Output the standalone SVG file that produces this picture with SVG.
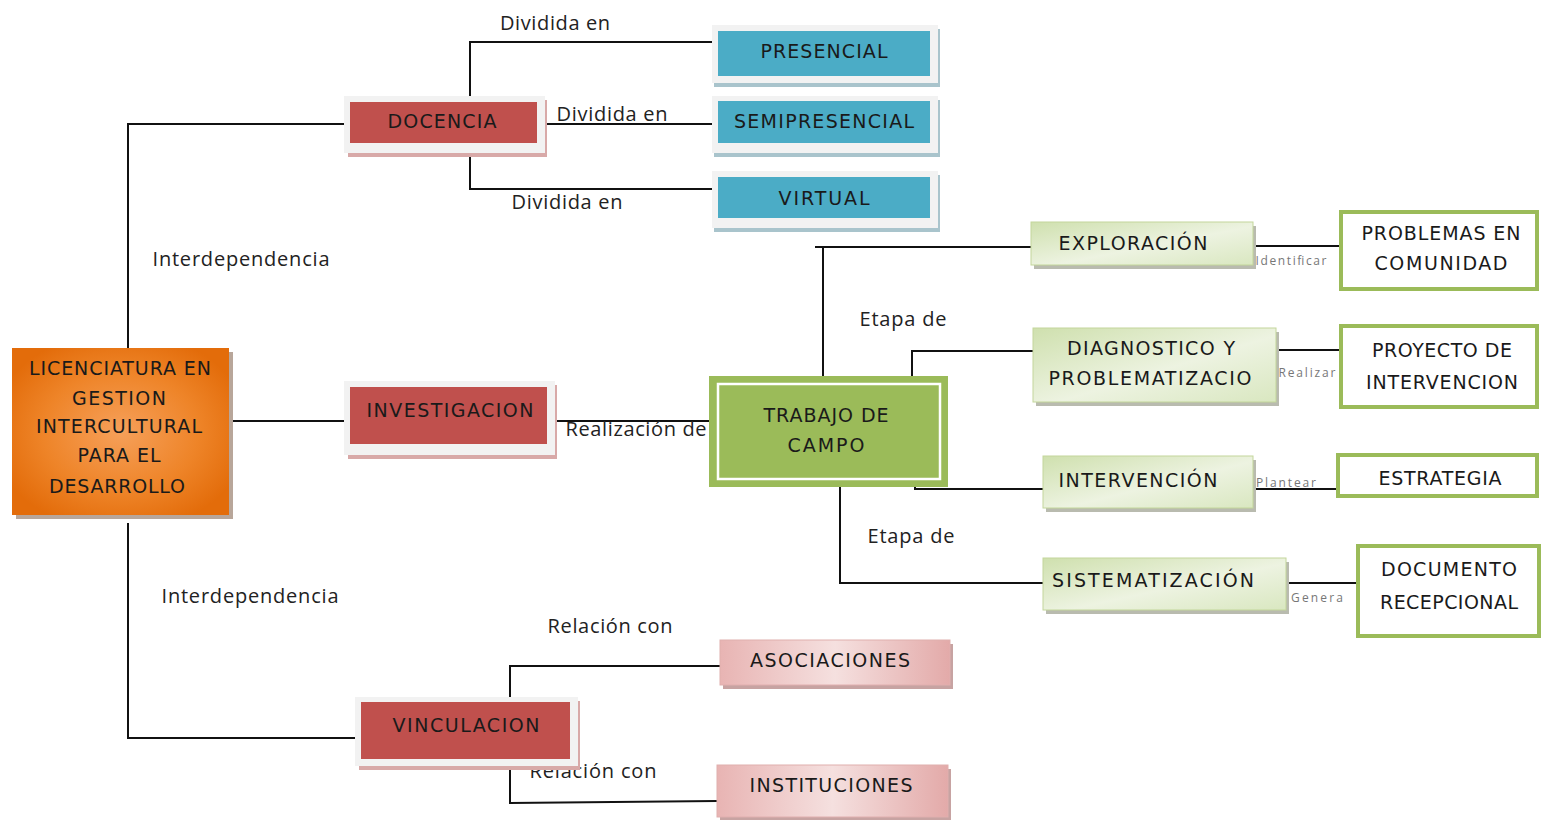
<svg xmlns="http://www.w3.org/2000/svg" width="1543" height="820" viewBox="0 0 1543 820">
<defs>
<radialGradient id="gOrange" cx="0.5" cy="0.5" r="0.6">
<stop offset="0" stop-color="#F6A05A"/>
<stop offset="0.6" stop-color="#EE8428"/>
<stop offset="1" stop-color="#E36C0A"/>
</radialGradient>
<linearGradient id="gGreen" x1="0" y1="0" x2="1" y2="1">
<stop offset="0" stop-color="#CFE0AE"/>
<stop offset="0.55" stop-color="#EDF3E1"/>
<stop offset="1" stop-color="#D9E7C0"/>
</linearGradient>
<linearGradient id="gPink" x1="0" y1="0" x2="1" y2="0">
<stop offset="0" stop-color="#E8B4B3"/>
<stop offset="0.5" stop-color="#F5E0DF"/>
<stop offset="1" stop-color="#E3AAA9"/>
</linearGradient>
</defs>
<style>
.frame{fill:#F2F2F2;}
.red{fill:#C0504D;}
.blue{fill:#4BACC6;}
.bshadow{fill:#A9C4CC;}
.rshadow{fill:#D8A9A8;}
.gshadow{fill:#B9BBAF;}
.pshadow{fill:#C7A3A2;}
.lg{fill:url(#gGreen);stroke:#C3D69B;stroke-width:1;}
.pk{fill:url(#gPink);stroke:#E0AFAE;stroke-width:1;}
.wb{fill:#FFFFFF;stroke:#9BBB59;stroke-width:4;}
.t{font-family:"DejaVu Sans","Liberation Sans",sans-serif;font-size:19px;fill:#1a1a1a;text-anchor:middle;dominant-baseline:central;}
.l{font-family:"Open Sans","Liberation Sans",sans-serif;font-size:20px;fill:#222;text-anchor:middle;dominant-baseline:central;}
.s{font-family:"Open Sans","Liberation Sans",sans-serif;font-size:12px;fill:#777;text-anchor:middle;dominant-baseline:central;}
.c{fill:none;stroke:#111;stroke-width:2;}
</style>

<g id="connectors">
<polyline class="c" points="348,124 128,124 128,348"/>
<polyline class="c" points="128,523 128,738 358,738"/>
<line class="c" x1="229" y1="421" x2="355" y2="421"/>
<polyline class="c" points="470,96 470,42 718,42"/>
<line class="c" x1="545" y1="124" x2="718" y2="124"/>
<polyline class="c" points="470,150 470,189 718,189"/>
<line class="c" x1="555" y1="421" x2="718" y2="421"/>
<polyline class="c" points="823,376 823,247 815,247 1031,247"/>
<polyline class="c" points="912,386 912,351 1033,351"/>
<polyline class="c" points="915,480 915,489 1043,489"/>
<polyline class="c" points="840,481 840,583 1043,583"/>
<line class="c" x1="1253" y1="246" x2="1340" y2="246"/>
<line class="c" x1="1276" y1="350" x2="1340" y2="350"/>
<line class="c" x1="1253" y1="489" x2="1343" y2="489"/>
<line class="c" x1="1286" y1="583" x2="1357" y2="583"/>
<polyline class="c" points="510,702 510,666 720,666"/>
<polyline class="c" points="510,765 510,803 717,801"/>
</g>

<g id="labels">
<text class="l" x="555" y="22" textLength="110">Dividida en</text>
<text class="l" x="612" y="113" textLength="111">Dividida en</text>
<text class="l" x="567" y="201" textLength="111">Dividida en</text>
<text class="l" x="241" y="258" textLength="177">Interdependencia</text>
<text class="l" x="250" y="595" textLength="177">Interdependencia</text>
<text class="l" x="636" y="428" textLength="141">Realización de</text>
<text class="l" x="903" y="318" textLength="87">Etapa de</text>
<text class="l" x="911" y="535" textLength="87">Etapa de</text>
<text class="l" x="610" y="625" textLength="125">Relación con</text>
<text class="l" x="593" y="770" textLength="127">Relación con</text>
<text class="s" x="1291" y="260" textLength="71">Identificar</text>
<text class="s" x="1307" y="372" textLength="57">Realizar</text>
<text class="s" x="1286" y="482" textLength="60">Plantear</text>
<text class="s" x="1317" y="597" textLength="52">Genera</text>
</g>

<g id="main">
<rect x="16" y="352" width="217" height="167" fill="#B8A69A"/>
<rect x="12" y="348" width="217" height="167" fill="url(#gOrange)"/>
<text class="t" x="120" y="368" textLength="182">LICENCIATURA EN</text>
<text class="t" x="119" y="398" textLength="94">GESTION</text>
<text class="t" x="119" y="426" textLength="166">INTERCULTURAL</text>
<text class="t" x="119" y="455" textLength="83">PARA EL</text>
<text class="t" x="117" y="486" textLength="136">DESARROLLO</text>
</g>

<g id="docencia">
<rect class="rshadow" x="348" y="100" width="199" height="57"/>
<rect class="frame" x="344" y="96" width="201" height="57"/>
<rect class="red" x="350" y="102" width="187" height="41"/>
<text class="t" x="442" y="121" textLength="109">DOCENCIA</text>
</g>

<g id="presencial">
<rect class="bshadow" x="714" y="29" width="226" height="58"/>
<rect class="frame" x="712" y="25" width="226" height="58"/>
<rect class="blue" x="718" y="31" width="212" height="45"/>
<text class="t" x="824" y="51" textLength="127">PRESENCIAL</text>
</g>

<g id="semipresencial">
<rect class="bshadow" x="714" y="100" width="226" height="57"/>
<rect class="frame" x="712" y="96" width="226" height="57"/>
<rect class="blue" x="718" y="101" width="212" height="42"/>
<text class="t" x="824" y="121" textLength="180">SEMIPRESENCIAL</text>
</g>

<g id="virtual">
<rect class="bshadow" x="714" y="175" width="226" height="57"/>
<rect class="frame" x="712" y="171" width="226" height="57"/>
<rect class="blue" x="718" y="177" width="212" height="41"/>
<text class="t" x="824" y="198" textLength="91">VIRTUAL</text>
</g>

<g id="investigacion">
<rect class="rshadow" x="348" y="385" width="209" height="74"/>
<rect class="frame" x="344" y="381" width="211" height="74"/>
<rect class="red" x="350" y="387" width="197" height="57"/>
<text class="t" x="450" y="410" textLength="167">INVESTIGACION</text>
</g>

<g id="vinculacion">
<rect class="rshadow" x="359" y="701" width="221" height="69"/>
<rect class="frame" x="355" y="697" width="223" height="69"/>
<rect class="red" x="361" y="702" width="209" height="57"/>
<text class="t" x="466" y="725" textLength="147">VINCULACION</text>
</g>

<g id="trabajo">
<rect x="709" y="376" width="239" height="111" fill="#9BBB59"/>
<rect x="718" y="384" width="222" height="95" fill="none" stroke="#FFFFFF" stroke-width="2.5"/>
<text class="t" x="826" y="415" textLength="125">TRABAJO DE</text>
<text class="t" x="826" y="445" textLength="77">CAMPO</text>
</g>

<g id="exploracion">
<rect class="gshadow" x="1034" y="226" width="222" height="43"/>
<rect class="lg" x="1031" y="222" width="222" height="43"/>
<text class="t" x="1133" y="243" textLength="149">EXPLORACIÓN</text>
</g>

<g id="diagnostico">
<rect class="gshadow" x="1036" y="332" width="243" height="74"/>
<rect class="lg" x="1033" y="328" width="243" height="74"/>
<text class="t" x="1151" y="348" textLength="168">DIAGNOSTICO Y</text>
<text class="t" x="1150" y="378" textLength="203">PROBLEMATIZACIO</text>
</g>

<g id="intervencion">
<rect class="gshadow" x="1046" y="460" width="210" height="52"/>
<rect class="lg" x="1043" y="456" width="210" height="52"/>
<text class="t" x="1138" y="480" textLength="159">INTERVENCIÓN</text>
</g>

<g id="sistematizacion">
<rect class="gshadow" x="1046" y="562" width="243" height="52"/>
<rect class="lg" x="1043" y="558" width="243" height="52"/>
<text class="t" x="1153" y="580" textLength="202">SISTEMATIZACIÓN</text>
</g>

<g id="problemas">
<rect class="wb" x="1341" y="212" width="196" height="77"/>
<text class="t" x="1441" y="233" textLength="159">PROBLEMAS EN</text>
<text class="t" x="1441" y="263" textLength="133">COMUNIDAD</text>
</g>

<g id="proyecto">
<rect class="wb" x="1341" y="326" width="196" height="81"/>
<text class="t" x="1442" y="350" textLength="140">PROYECTO DE</text>
<text class="t" x="1442" y="382" textLength="152">INTERVENCION</text>
</g>

<g id="estrategia">
<rect class="wb" x="1338" y="455" width="199" height="41"/>
<text class="t" x="1440" y="478" textLength="123">ESTRATEGIA</text>
</g>

<g id="documento">
<rect class="wb" x="1358" y="546" width="181" height="90"/>
<text class="t" x="1449" y="569" textLength="136">DOCUMENTO</text>
<text class="t" x="1449" y="602" textLength="138">RECEPCIONAL</text>
</g>

<g id="asociaciones">
<rect class="pshadow" x="723" y="644" width="230" height="45"/>
<rect class="pk" x="720" y="640" width="230" height="45"/>
<text class="t" x="830" y="660" textLength="160">ASOCIACIONES</text>
</g>

<g id="instituciones">
<rect class="pshadow" x="720" y="769" width="231" height="52"/>
<rect class="pk" x="717" y="765" width="231" height="52"/>
<text class="t" x="831" y="785" textLength="163">INSTITUCIONES</text>
</g>
</svg>
